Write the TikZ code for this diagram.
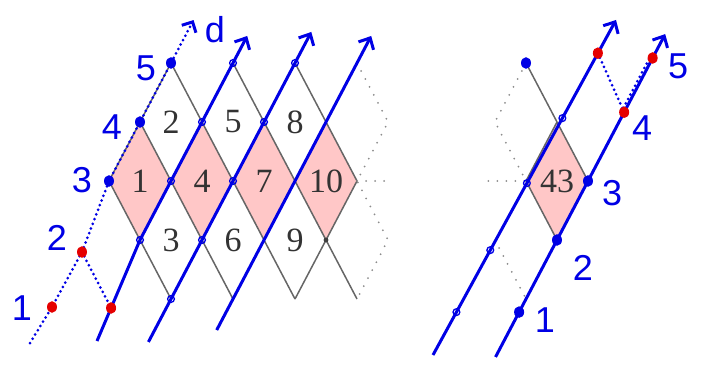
\documentclass[tikz,border=0pt]{standalone}
\usepackage{fontspec}
\setmainfont{Liberation Serif}
\setsansfont{Liberation Sans}
\usetikzlibrary{arrows.meta,calc}

\colorlet{pen}{blue!90!black}
\colorlet{pendot}{red!90!black}
\colorlet{cellpink}{red!22!white}
\colorlet{gridgray}{black!60}
\tikzstyle{grid}=[gridgray,line width=1.5]
\tikzstyle{faint}=[black!45,line width=2,line cap=round,dash pattern=on 0pt off 9pt]
\tikzstyle{penline}=[pen,line width=3,line join=round,-{Straight Barb[length=9,width=17]}]
\tikzstyle{pendots}=[pen,line width=3,line cap=round,dash pattern=on 0pt off 5pt]
\tikzstyle{cell}=[black!80,font=\fontsize{34}{34}\selectfont,inner sep=0pt]
\tikzstyle{hand}=[pen,font=\sffamily\fontsize{36}{36}\selectfont,inner sep=0pt]
\def\mring#1{\draw[pen,line width=1.3] (#1) circle (3.4)}
\def\mblob#1#2{\fill[#2] (#1) ellipse (5 and 5.8)}

\begin{document}
\begin{tikzpicture}[x=1pt,y=-1pt]
  \def\w{31} % half width of a cell
  \def\h{59} % half height of a cell
  \useasboundingbox (0,0) rectangle (703,371);

  % LEFT LATTICE
  \begin{scope}[shift={(109,181)},x=\w pt,y=-\h pt]
    \foreach \i in {0,...,9}
      \foreach \r in {0,...,4}
        \coordinate (v\i\r) at (\i,\r-2);
  \end{scope}
  \foreach \i in {1,3,5,7}{
    \pgfmathtruncatemacro\il{\i-1}
    \pgfmathtruncatemacro\ir{\i+1}
    \fill[cellpink] (v\il2) -- (v\i1) -- (v\ir2) -- (v\i3) -- cycle;
  }
  \draw[grid] (v20) -- (v64);
  \draw[grid] (v40) -- (v84);
  \draw[grid] (v60) -- (v82);
  \draw[grid] (v11) -- (v44);
  \draw[grid] (v02) -- (v24);
  \draw[grid] (v02) -- (v20);
  \draw[grid] (v13) -- (v40);
  \draw[grid] (v24) -- (v60);
  \draw[grid] (v44) -- (v71);
  \draw[grid] (v64) -- (v82);
  \draw[faint] (v80) -- (v91) -- (v82) -- (v93) -- (v84);
  \draw[faint] (v82) -- (v92);
  \fill[black!75] (v73) circle (2.4);
  \foreach \n/\i/\r in {1/1/2,2/2/1,3/2/3,4/3/2,5/4/1,6/4/3,7/5/2,8/6/1,9/6/3,10/7/2}
    \node[cell] (c\n) at (v\i\r) {\n};

  % PEN LINES
  \coordinate (a0) at (97,341);
  \coordinate (a1) at ($(v22)!1.229!(v40)$);
  \coordinate (b0) at ($(v42)!-1.364!(v60)$);
  \coordinate (b1) at ($(v42)!1.263!(v60)$);
  \coordinate (c0) at ($(v62)!-1.263!(v80)$);
  \coordinate (c1) at ($(v62)!1.229!(v80)$);
  \draw[penline] (a0) -- (v13) -- (a1);
  \draw[penline] (b0) -- (b1);
  \draw[penline] (c0) -- (c1);
  \foreach \p in {v40,v31,v22,v13,v60,v51,v42,v33,v24}
    \mring{\p};

  % DIAGONAL d
  \coordinate (d0) at (30,343);
  \coordinate (p1) at (52,307);
  \coordinate (p2) at (82,252);
  \coordinate (d1) at ($(v02)!1.364!(v20)$);
  \coordinate (q2) at ($(a0)!0.327!(v13)$);
  \draw[pendots,-{Straight Barb[length=8,width=16]}]
    (d0) -- (p1) -- (p2) -- (v02) -- (v20) -- (d1);
  \draw[pendots] (p2) -- (q2);
  \node[hand] (dlab) at (215,30) {d};
  \mblob{p1}{pendot};
  \mblob{p2}{pendot};
  \mblob{q2}{pendot};
  \mblob{v02}{pen};
  \mblob{v11}{pen};
  \mblob{v20}{pen};
  \node[hand] (l1) at (22,308) {1};
  \node[hand] (l2) at (57,238) {2};
  \node[hand] (l3) at (82,180) {3};
  \node[hand] (l4) at (112,127) {4};
  \node[hand] (l5) at (146,68) {5};

  % RIGHT LATTICE
  \begin{scope}[shift={(526,181)},x=\w pt,y=-\h pt]
    \foreach \i in {0,...,3}
      \foreach \r in {0,...,4}
        \coordinate (w\i\r) at (\i-1,\r-2);
  \end{scope}
  \fill[cellpink] (w12) -- (w21) -- (w32) -- (w23) -- cycle;
  \draw[grid] (w10) -- (w32) -- (w23) -- (w12) -- (w21);
  \coordinate (hz) at (484,181);
  \draw[faint] (w10) -- (w01) -- (w12) -- (hz);
  \draw[faint] (w03) -- (w14);
  \node[cell] (c43) at ($(w12)!0.5!(w32)$) {43};

  % PEN LINES
  \coordinate (r0) at (433,355);
  \coordinate (r1) at (616,20);
  \coordinate (s0) at ($(w23)!-1.983!(w32)$);
  \coordinate (s1) at ($(w23)!3.49!(w32)$);
  \draw[penline] (r0) -- (r1);
  \draw[penline] (s0) -- (s1);
  \path (r0) -- (r1) coordinate[pos=0.128] (m1) coordinate[pos=0.313] (m2)
    coordinate[pos=0.513] (m3) coordinate[pos=0.707] (m4) coordinate[pos=0.901] (e1);
  \path (s0) -- (s1) coordinate[pos=0.139] (f1) coordinate[pos=0.758] (f4)
    coordinate[pos=0.926] (f5);
  \foreach \p in {m1,m2,m3,m4}
    \mring{\p};
  \draw[pendots] (e1) -- (f4);
  \draw[pendots] ([xshift=-3pt]f4) -- ([xshift=-3pt]f5);
  \mblob{w10}{pen};
  \mblob{f1}{pen};
  \mblob{w23}{pen};
  \mblob{w32}{pen};
  \mblob{e1}{pendot};
  \mblob{f4}{pendot};
  \mblob{f5}{pendot};
  \node[hand] (k1) at (545,320) {1};
  \node[hand] (k2) at (583,268) {2};
  \node[hand] (k3) at (612,193) {3};
  \node[hand] (k4) at (642,128) {4};
  \node[hand] (k5) at (678,66) {5};
\end{tikzpicture}
\end{document}
